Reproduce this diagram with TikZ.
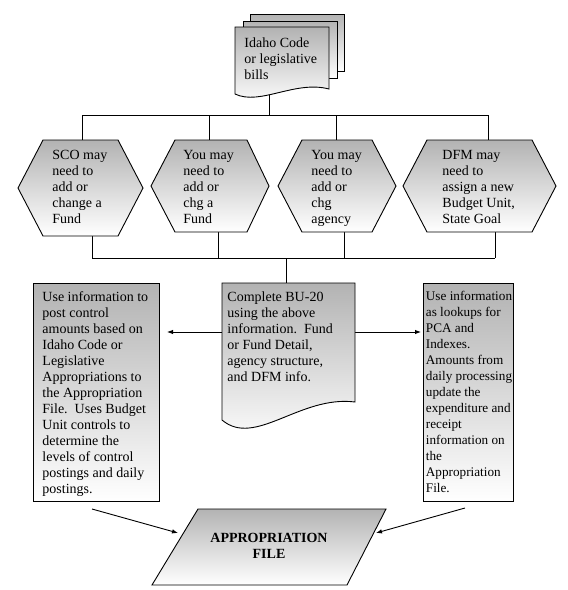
\documentclass[tikz,border=0pt]{standalone}
\usepackage{fontspec}
\setmainfont{Liberation Serif}
\usetikzlibrary{arrows.meta}
\begin{document}
\begin{tikzpicture}[x=1pt,y=-1pt,line width=0.9pt,
  shadefill/.style={draw=black,top color=black!30,bottom color=white},
  boxnode/.style={shadefill,rectangle,anchor=north west,inner sep=0pt},
  txt/.style={anchor=north west,inner sep=0pt,align=left,font=\fontsize{14}{16}\selectfont},
  arr/.style={-{Latex[length=6pt,width=4.5pt]}}]
\useasboundingbox (0,0) rectangle (568,590);

% ---------- junction coordinates ----------
\coordinate (stemtop) at (269,92);
\coordinate (topbar) at (269,115);
\coordinate (tb1) at (82,115);
\coordinate (tb2) at (209,115);
\coordinate (tb3) at (336,115);
\coordinate (tb4) at (488,115);
\coordinate (h1t) at (82,140);
\coordinate (h2t) at (209,140);
\coordinate (h3t) at (336,140);
\coordinate (h4t) at (488,140);
\coordinate (h1b) at (92,236);
\coordinate (h2b) at (218,232);
\coordinate (h3b) at (344,232);
\coordinate (h4b) at (495,232);
\coordinate (bb1) at (92,258);
\coordinate (bb2) at (218,258);
\coordinate (bb3) at (344,258);
\coordinate (bb4) at (495,258);
\coordinate (bbmid) at (286,258);
\coordinate (cdoctop) at (286,283);
\coordinate (cdl) at (222,332);
\coordinate (cdr) at (355,332);
\coordinate (ltip) at (167,332);
\coordinate (rtip) at (421,332);
\coordinate (lfrom) at (92,509);
\coordinate (lto) at (178,533);
\coordinate (rfrom) at (465,508);
\coordinate (rto) at (376,533);

% ---------- connectors (drawn first, shapes cover ends) ----------
\draw (stemtop) -- (topbar);
\draw (tb1) -- (tb4);
\draw (tb1) -- (h1t);
\draw (tb2) -- (h2t);
\draw (tb3) -- (h3t);
\draw (tb4) -- (h4t);
\draw (h1b) -- (bb1);
\draw (h2b) -- (bb2);
\draw (h3b) -- (bb3);
\draw (h4b) -- (bb4);
\draw (bb1) -- (bb4);
\draw (bbmid) -- (cdoctop);
\draw[arr] (cdl) -- (ltip);
\draw[arr] (cdr) -- (rtip);
\draw[arr] (lfrom) -- (lto);
\draw[arr] (rfrom) -- (rto);

% ---------- multi-document ----------
\path[shadefill] (250,14) rectangle (344,71);
\path[shadefill] (243,21) rectangle (337,78);
\path[shadefill] (235,27) -- (329,27) -- (329,89)
  .. controls (295,80) and (260,106) .. (235,94) -- cycle;
\node[txt] (idaho) at (244,37) {Idaho Code\\or legislative\\bills};

% ---------- hexagons ----------
\path[shadefill] (18,188) -- (43,140) -- (118,140) -- (143,188) -- (118,236) -- (43,236) -- cycle;
\path[shadefill] (151,186) -- (175,140) -- (247,140) -- (269,186) -- (247,232) -- (175,232) -- cycle;
\path[shadefill] (278,186) -- (302,140) -- (372,140) -- (396,186) -- (372,232) -- (302,232) -- cycle;
\path[shadefill] (403,186) -- (427,140) -- (532,140) -- (556,186) -- (532,232) -- (427,232) -- cycle;
\node[txt] (sco) at (52,150) {SCO may\\need to\\add or\\change a\\Fund};
\node[txt] (youfund) at (183,150) {You may\\need to\\add or\\chg a\\Fund};
\node[txt] (youagency) at (311,150) {You may\\need to\\add or\\chg\\agency};
\node[txt] (dfm) at (442,150) {DFM may\\need to\\assign a new\\Budget Unit,\\State Goal};

% ---------- center document ----------
\path[shadefill] (222,283) -- (355,283) -- (355,402)
  .. controls (300,395) and (255,448) .. (222,420) -- cycle;
\node[txt] (bu20) at (227,291) {Complete BU-20\\using the above\\information.\ \ Fund\\or Fund Detail,\\agency structure,\\and DFM info.};

% ---------- side boxes ----------
\node[boxnode,minimum width=126pt,minimum height=218pt] (lbox) at (33,283) {};
\node[txt] (ltext) at (42,291) {Use information to\\post control\\amounts based on\\Idaho Code or\\Legislative\\Appropriations to\\the Appropriation\\File.\ \ Uses Budget\\Unit controls to\\determine the\\levels of control\\postings and daily\\postings.};
\node[boxnode,minimum width=90pt,minimum height=218pt] (rbox) at (423,283) {};
\node[txt,font=\fontsize{13.2}{16}\selectfont] (rtext) at (425.5,291) {Use information\\as lookups for\\PCA and\\Indexes.\\Amounts from\\daily processing\\update the\\expenditure and\\receipt\\information on\\the\\Appropriation\\File.};

% ---------- appropriation file ----------
\path[shadefill] (198,509) -- (386,509) -- (347,585) -- (152,585) -- cycle;
\node[align=center,inner sep=0pt,font=\fontsize{14}{16}\selectfont\bfseries] (appfile) at (269,546) {APPROPRIATION\\FILE};
\end{tikzpicture}
\end{document}
